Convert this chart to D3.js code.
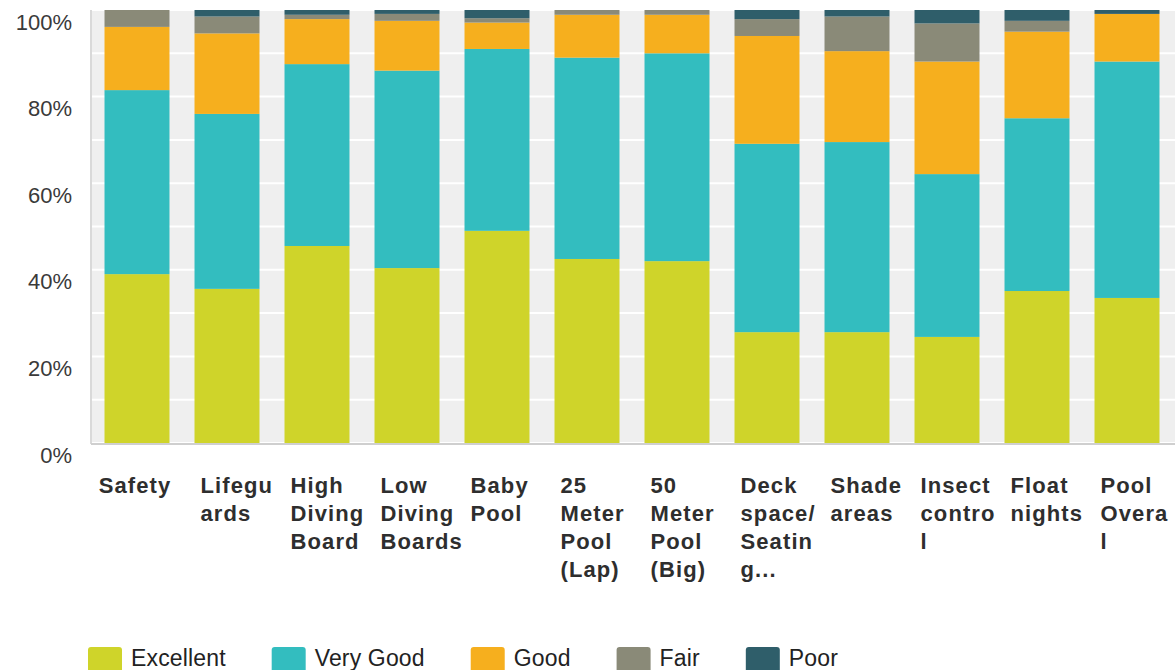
<!DOCTYPE html>
<html>
<head>
<meta charset="utf-8">
<script src="https://cdn.jsdelivr.net/npm/d3@7"></script>
<style>
  html, body { margin: 0; padding: 0; background: #ffffff; }
  svg { display: block; }
</style>
</head>
<body>
<svg id="chart" width="1175" height="670"></svg>
<script>
// Pool survey ratings, percent of responses per facility
const categories = [
  "Safety", "Lifeguards", "High Diving Board", "Low Diving Boards", "Baby Pool",
  "25 Meter Pool (Lap)", "50 Meter Pool (Big)", "Deck space/ Seating...",
  "Shade areas", "Insect control", "Float nights", "Pool Overall"
];
// Wrapped tick labels as shown under each bar
const tickLabels = [
  ["Safety"], ["Lifegu", "ards"], ["High", "Diving", "Board"], ["Low", "Diving", "Boards"],
  ["Baby", "Pool"], ["25", "Meter", "Pool", "(Lap)"], ["50", "Meter", "Pool", "(Big)"],
  ["Deck", "space/", "Seatin", "g..."], ["Shade", "areas"], ["Insect", "contro", "l"],
  ["Float", "nights"], ["Pool", "Overa", "l"]
];
const seriesNames = ["Excellent", "Very Good", "Good", "Fair", "Poor"];
const excellent = [39.0, 35.6, 45.5, 40.4, 49.0, 42.5, 42.0, 25.6, 25.6, 24.5, 35.1, 33.5];
const veryGood  = [42.5, 40.4, 42.0, 45.6, 42.0, 46.5, 48.0, 43.5, 43.9, 37.6, 39.9, 54.6];
const good      = [14.6, 18.6, 10.4, 11.5,  6.1,  9.9,  8.9, 24.9, 21.0, 26.0, 20.0, 11.0];
const fair      = [ 3.9,  3.9,  1.0,  1.6,  1.0,  1.1,  1.1,  3.9,  8.0,  8.8,  2.5,  0.0];
const poor      = [ 0.0,  1.5,  1.1,  0.9,  1.9,  0.0,  0.0,  2.1,  1.5,  3.1,  2.5,  0.9];
const yTickValues = [0, 20, 40, 60, 80, 100];
const yGridValues = [0, 10, 20, 30, 40, 50, 60, 70, 80, 90, 100];

const seriesValues = [excellent, veryGood, good, fair, poor];
const colors = ["#cfd42a", "#33bdbf", "#f6af1e", "#8a8a78", "#2f5e6a"];

const rows = categories.map((c, i) => {
  const r = { category: c };
  seriesNames.forEach((s, j) => { r[s] = seriesValues[j][i]; });
  return r;
});

const svg = d3.select("#chart");
const plot = { left: 91, right: 1175, top: 10, bottom: 443 };

const x = d3.scaleBand()
  .domain(categories)
  .range([92, 1172])
  .paddingInner(0.278)
  .paddingOuter(0.139);

const y = d3.scaleLinear().domain([0, 100]).range([plot.bottom, plot.top]);
const color = d3.scaleOrdinal().domain(seriesNames).range(colors);

// plot background
svg.append("rect")
  .attr("x", plot.left).attr("y", plot.top)
  .attr("width", plot.right - plot.left).attr("height", plot.bottom - plot.top)
  .attr("fill", "#efefef");

// horizontal grid lines
svg.append("g").selectAll("line")
  .data(yGridValues)
  .join("line")
  .attr("x1", plot.left).attr("x2", plot.right)
  .attr("y1", d => y(d)).attr("y2", d => y(d))
  .attr("stroke", "#ffffff").attr("stroke-width", 2);

// stacked bars
const stacked = d3.stack().keys(seriesNames)(rows);
svg.append("g").selectAll("g")
  .data(stacked)
  .join("g")
  .attr("fill", d => color(d.key))
  .selectAll("rect")
  .data(d => d)
  .join("rect")
  .attr("x", d => x(d.data.category))
  .attr("width", x.bandwidth())
  .attr("y", d => y(d[1]))
  .attr("height", d => Math.max(0, y(d[0]) - y(d[1])));

// axis lines
svg.append("line")
  .attr("x1", plot.left).attr("x2", plot.left)
  .attr("y1", plot.top).attr("y2", plot.bottom + 1)
  .attr("stroke", "#d9d9d9").attr("stroke-width", 2);
svg.append("line")
  .attr("x1", plot.left).attr("x2", plot.right)
  .attr("y1", plot.bottom + 1).attr("y2", plot.bottom + 1)
  .attr("stroke", "#cfcfcf").attr("stroke-width", 2);

// y axis labels, set just below their grid line
const yAxis = svg.append("g")
  .attr("transform", `translate(${plot.left - 19},0)`)
  .call(d3.axisLeft(y).tickValues(yTickValues).tickFormat(d => d + "%").tickSize(0).tickPadding(0));
yAxis.select(".domain").remove();
yAxis.selectAll("text")
  .attr("dy", null)
  .attr("y", 19)
  .attr("fill", "#3a3a3a")
  .style("font-family", "'Liberation Sans', Arial, sans-serif")
  .style("font-size", "22px");

// x axis labels, wrapped
const xAxis = svg.append("g")
  .attr("transform", `translate(0,${plot.bottom})`)
  .call(d3.axisBottom(x).tickSize(0).tickFormat(""));
xAxis.select(".domain").remove();
xAxis.selectAll(".tick text").each(function(d) {
  const i = categories.indexOf(d);
  const lines = tickLabels[i];
  const t = d3.select(this)
    .attr("fill", "#2e2e2e")
    .attr("y", 0)
    .attr("dy", null)
    .style("font-family", "'Liberation Sans', Arial, sans-serif")
    .style("font-weight", "bold")
    .style("font-size", "22px")
    .style("letter-spacing", "1.1px");
  const single = lines.length === 1;
  t.attr("text-anchor", single ? "middle" : "start");
  const xOff = single ? -2 : -x.bandwidth() / 2 + 6;
  lines.forEach((ln, k) => {
    t.append("tspan")
      .attr("x", xOff)
      .attr("y", 50 + k * 28)
      .text(ln);
  });
});

// legend
const legend = svg.append("g").attr("transform", "translate(88,647)");
let lx = 0;
seriesNames.forEach((s, i) => {
  const g = legend.append("g").attr("transform", `translate(${lx},0)`);
  g.append("rect")
    .attr("width", 34).attr("height", 26)
    .attr("rx", 3).attr("ry", 3)
    .attr("fill", color(s));
  const txt = g.append("text")
    .attr("x", 43).attr("y", 19)
    .attr("fill", "#222222")
    .style("font-family", "'Liberation Sans', Arial, sans-serif")
    .style("font-size", "23px")
    .style("letter-spacing", "0.15px")
    .text(s);
  lx += 43 + txt.node().getComputedTextLength() + 46;
});
</script>
</body>
</html>
